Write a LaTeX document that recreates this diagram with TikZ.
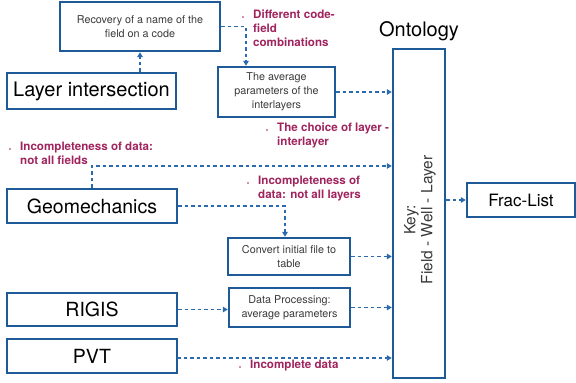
\documentclass[tikz,border=0pt]{standalone}
\usepackage{fontspec}
\setmainfont{TeX Gyre Heros}
\usetikzlibrary{arrows.meta}
\definecolor{boxblue}{HTML}{1F5A98}
\definecolor{arrblue}{HTML}{2A6AAE}
\definecolor{notered}{HTML}{A0245E}
\definecolor{smalltxt}{HTML}{3A3A3A}
\tikzset{
  bigbox/.style={draw=boxblue, line width=2.4pt, rectangle, inner sep=0pt, align=center, font=\fontsize{20}{22}\selectfont},
  smallbox/.style={draw=boxblue, line width=2.4pt, rectangle, inner sep=0pt, align=center, text=smalltxt, font=\fontsize{10.8}{14}\selectfont},
  arr/.style={draw=arrblue, line width=1.8pt, dash pattern=on 3.5pt off 3pt, -{Triangle[length=5pt,width=5.5pt]}},
  note/.style={text=notered, font=\bfseries\fontsize{11.6}{14}\selectfont, align=left, anchor=north west, inner sep=0pt},
  notedot/.style={circle, fill=notered, inner sep=0pt, minimum size=1.8pt}
}
\begin{document}
\begin{tikzpicture}[x=1pt,y=-1pt]
\useasboundingbox (0,0) rectangle (576,383);
% boxes
\node[smallbox, minimum width=160pt, minimum height=49pt] (rec) at (140,26.5) {Recovery of a name of the\\field on a code};
\node[bigbox, minimum width=169pt, minimum height=36pt] (li) at (91.5,91) {Layer intersection};
\node[smallbox, minimum width=117pt, minimum height=50pt] (avg) at (276.5,92) {The average\\parameters of the\\interlayers};
\node[draw=boxblue, line width=2.4pt, rectangle, minimum width=52pt, minimum height=329pt, inner sep=0pt] (onto) at (419,213.5) {};
\node[font=\fontsize{15.5}{17}\selectfont, text=smalltxt, rotate=90, align=center] (key) at (420,220) {Key:\\Field - Well - Layer};
\node[font=\fontsize{20}{22}\selectfont, anchor=south, inner sep=0pt] (ontot) at (419,41) {Ontology};
\node[bigbox, minimum width=108pt, minimum height=34pt, font=\fontsize{17}{19}\selectfont] (frac) at (521,200) {Frac-List};
\node[bigbox, minimum width=170pt, minimum height=34pt, font=\fontsize{19.5}{21}\selectfont] (geo) at (92,206) {Geomechanics};
\node[smallbox, minimum width=122pt, minimum height=37pt] (conv) at (289,256.5) {Convert initial file to\\table};
\node[bigbox, minimum width=170pt, minimum height=33pt, font=\fontsize{19.5}{21}\selectfont] (rigis) at (92,309.5) {RIGIS};
\node[smallbox, minimum width=121pt, minimum height=39pt] (dp) at (289.5,307.5) {Data Processing:\\average parameters};
\node[bigbox, minimum width=170pt, minimum height=34pt, font=\fontsize{19.5}{21}\selectfont] (pvt) at (92,356) {PVT};
% notes
\node[notedot] (d1) at (243,17) {};
\node[note] (n1) at (253,10) {Different code-\\field\\combinations};
\node[notedot] (d2) at (267,130) {};
\node[note] (n2) at (277,123) {The choice of layer -\\interlayer};
\node[notedot] (d3) at (10,149) {};
\node[note] (n3) at (20,142) {Incompleteness of data:\\not all fields};
\node[notedot] (d4) at (248,183) {};
\node[note] (n4) at (258,176) {Incompleteness of\\data: not all layers};
\node[notedot] (d5) at (240,367) {};
\node[note] (n5) at (250,360) {Incomplete data};
% connectors
\coordinate (g1) at (92,166);
\coordinate (p1) at (177,358);
\draw[arr] (rec.south |- li.north) -- (rec.south);
\draw[arr] (rec.east) -| ([xshift=-30.5pt]avg.north);
\draw[arr] (avg.east) -- (onto.west |- avg.east);
\draw[arr] (geo.north) -- (g1) -- (onto.west |- g1);
\draw[arr] (geo.east) -| ([xshift=-4pt]conv.north);
\draw[arr] (conv.east) -- (onto.west |- conv.east);
\draw[arr] (rigis.east) -- (dp.west |- rigis.east);
\draw[arr] (dp.east) -- (onto.west |- dp.east);
\draw[arr] (p1) -- (onto.west |- p1);
\draw[arr] (onto.east |- frac.west) -- (frac.west);
\end{tikzpicture}
\end{document}
